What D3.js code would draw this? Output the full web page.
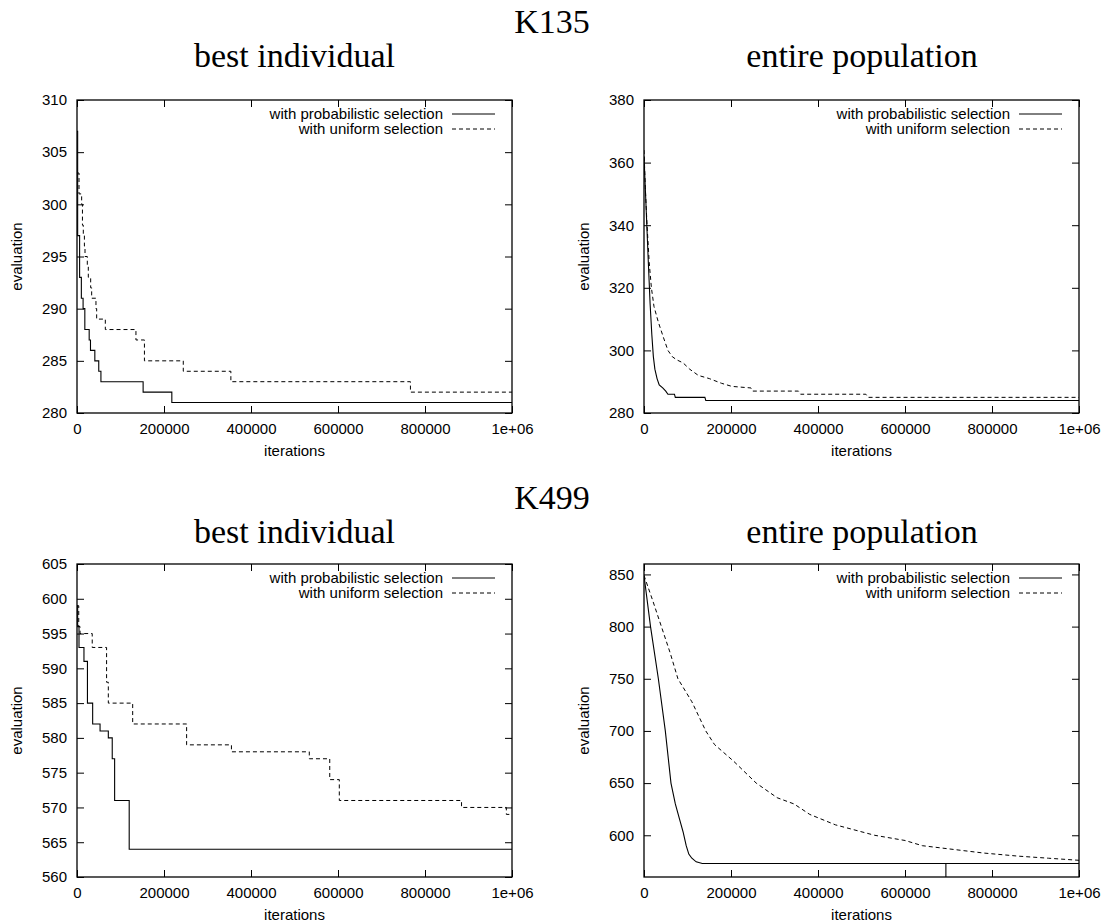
<!DOCTYPE html>
<html>
<head>
<meta charset="utf-8">
<script src="https://cdn.jsdelivr.net/npm/d3@7"></script>
<style>
body { margin: 0; background: #fff; }
svg text { fill: #000; }
.sans { font-family: "Liberation Sans", Arial, Helvetica, sans-serif; font-size: 15px; }
.serif { font-family: "Liberation Serif", "Times New Roman", serif; font-size: 34px; }
</style>
</head>
<body>
<div id="chart"></div>
<script>
// shared x axis
var xTicks = [0, 200000, 400000, 600000, 800000, 1000000],
    xTickLabels = ["0", "200000", "400000", "600000", "800000", "1e+06"];

// K135 - best individual (step series: [iteration, evaluation])
var k135BestTicks = [280, 285, 290, 295, 300, 305, 310];
var k135BestProb = [[0,307],[1500,297],[6000,293],[10000,291],[14000,290],[18000,288],[28000,287],
    [31000,286],[41000,285],[50000,284],[55000,283],[152000,282],[218000,281],[1000000,281]];
var k135BestUnif = [[0,303],[4600,301],[10700,300],[12500,298],[14500,297],[17000,296],[18400,295],
    [23700,294],[26000,293],[31400,292],[33700,291],[43600,290],[45200,289],[65100,288],[135500,287],
    [155000,285],[244300,284],[353700,283],[766500,282],[1000000,282]];

// K135 - entire population
var k135PopTicks = [280, 300, 320, 340, 360, 380];
var k135PopProb = [[0,362],[5000,345],[10000,328],[14000,315],[18000,305],[21500,298],[25000,294],
    [30000,291],[35000,289],[43000,288],[50000,287],[55000,286],[70000,286],[72000,285],[140000,285],
    [142000,284],[1000000,284]];
var k135PopUnif = [[0,364],[3000,352],[7000,340],[12000,328],[17000,320],[23000,314],[33000,309],
    [45000,304],[55000,300],[65000,298],[75000,297],[90000,296],[105000,294],[125000,292],[150000,291],
    [178000,289.5],[202000,288.5],[246000,288],[250000,287],[355000,287],[360000,286],[510000,286],
    [515000,285],[1000000,285]];

// K499 - best individual
var k499BestTicks = [560, 565, 570, 575, 580, 585, 590, 595, 600, 605];
var k499BestProb = [[0,599],[1500,596],[4600,593],[16000,591],[24000,585],[36000,582],[53000,581],
    [72000,580],[81000,577],[86500,571],[120000,564],[1000000,564]];
var k499BestUnif = [[0,599],[4000,596],[7000,595],[35000,593],[68000,588],[72000,585],[128000,582],
    [252000,579],[355000,578],[534000,577],[581000,574],[603000,571],[884000,570],[987000,569],
    [1000000,569]];

// K499 - entire population
var k499PopTicks = [600, 650, 700, 750, 800, 850];
var k499PopProb = [[0,849],[15000,800],[33000,750],[49000,700],[62000,650],[72000,630],[82000,615],
    [90000,603],[97000,590],[103000,582],[110000,578],[120000,574.5],[134000,573],[694000,573],
    [694000,540],[694000,573],[1000000,573]];
var k499PopUnif = [[0,849],[20000,825],[40000,800],[60000,775],[78000,750],[110000,728],[142000,700],
    [162000,687],[206000,671],[258000,650],[306000,636],[345000,630],[381000,620],[440000,610],
    [530000,600],[600000,595],[640000,590],[700000,587],[780000,583],[860000,580],[930000,578],
    [1000000,576]];

var width = 1105, height = 923,
    pw = 435, ph = 313,
    tickLen = 7;

var svg = d3.select("#chart").append("svg")
    .attr("width", width)
    .attr("height", height);

// headings
var headings = [
    {text: "K135", x: 552, y: 33},
    {text: "best individual", x: 294.5, y: 67},
    {text: "entire population", x: 862, y: 67},
    {text: "K499", x: 552, y: 509},
    {text: "best individual", x: 294.5, y: 543},
    {text: "entire population", x: 862, y: 543}
];
svg.selectAll(".heading").data(headings).enter().append("text")
    .attr("class", "heading serif")
    .attr("x", function(d) { return d.x; })
    .attr("y", function(d) { return d.y; })
    .attr("text-anchor", "middle")
    .text(function(d) { return d.text; });

var panels = [
    {left: 77,  top: 100, domain: [280, 310], ticks: k135BestTicks, prob: k135BestProb, unif: k135BestUnif, step: true},
    {left: 644, top: 100, domain: [280, 380], ticks: k135PopTicks,  prob: k135PopProb,  unif: k135PopUnif,  step: false},
    {left: 77,  top: 564, domain: [560, 605], ticks: k499BestTicks, prob: k499BestProb, unif: k499BestUnif, step: true},
    {left: 644, top: 564, domain: [560, 860], ticks: k499PopTicks,  prob: k499PopProb,  unif: k499PopUnif,  step: false}
];

panels.forEach(drawPanel);

function drawPanel(p, i) {
    var g = svg.append("g").attr("transform", "translate(" + p.left + "," + p.top + ")");
    var x = d3.scaleLinear().domain([0, 1000000]).range([0, pw]),
        y = d3.scaleLinear().domain(p.domain).range([ph, 0]);

    g.append("clipPath").attr("id", "clip" + i)
        .append("rect").attr("width", pw).attr("height", ph);

    // axes, gnuplot style: ticks inside and mirrored
    var bottom = g.append("g").attr("class", "sans")
        .attr("transform", "translate(0," + ph + ")")
        .call(d3.axisBottom(x).tickValues(xTicks).tickSize(-tickLen).tickPadding(10)
            .tickFormat(function(d, k) { return xTickLabels[k]; }));
    var top = g.append("g")
        .call(d3.axisTop(x).tickValues(xTicks).tickSize(-tickLen).tickFormat(""));
    var leftAx = g.append("g").attr("class", "sans")
        .call(d3.axisLeft(y).tickValues(p.ticks).tickSize(-tickLen).tickPadding(10)
            .tickFormat(d3.format("d")));
    var rightAx = g.append("g").attr("transform", "translate(" + pw + ",0)")
        .call(d3.axisRight(y).tickValues(p.ticks).tickSize(-tickLen).tickFormat(""));
    [bottom, top, leftAx, rightAx].forEach(function(a) {
        a.select(".domain").remove();
        a.selectAll("line").attr("stroke", "#000").attr("stroke-width", 1);
        a.selectAll("text").attr("fill", "#000");
        a.attr("font-family", null).attr("font-size", null);
    });

    g.append("rect")
        .attr("width", pw).attr("height", ph)
        .attr("fill", "none").attr("stroke", "#000").attr("stroke-width", 1.3);

    // series
    var line = d3.line()
        .x(function(d) { return x(d[0]); })
        .y(function(d) { return y(d[1]); })
        .curve(p.step ? d3.curveStepAfter : d3.curveLinear);
    var plot = g.append("g").attr("clip-path", "url(#clip" + i + ")");
    plot.append("path").datum(p.unif)
        .attr("d", line).attr("fill", "none")
        .attr("stroke", "#000").attr("stroke-width", 1).attr("stroke-dasharray", "4,3");
    plot.append("path").datum(p.prob)
        .attr("d", line).attr("fill", "none")
        .attr("stroke", "#000").attr("stroke-width", 1.1);

    // legend
    var legend = [
        {label: "with probabilistic selection", dash: null, y: 14},
        {label: "with uniform selection", dash: "4,3", y: 29}
    ];
    var lg = g.selectAll(".legend").data(legend).enter().append("g").attr("class", "legend");
    lg.append("text").attr("class", "sans")
        .attr("x", pw - 69).attr("y", function(d) { return d.y; })
        .attr("dy", "0.35em").attr("text-anchor", "end")
        .text(function(d) { return d.label; });
    lg.append("line")
        .attr("x1", pw - 60).attr("x2", pw - 17)
        .attr("y1", function(d) { return d.y; }).attr("y2", function(d) { return d.y; })
        .attr("stroke", "#000").attr("stroke-width", 1)
        .attr("stroke-dasharray", function(d) { return d.dash; });

    // axis titles
    g.append("text").attr("class", "sans")
        .attr("x", pw / 2).attr("y", ph + 43)
        .attr("text-anchor", "middle")
        .text("iterations");
    g.append("text").attr("class", "sans")
        .attr("transform", "translate(-55," + (ph / 2) + ") rotate(-90)")
        .attr("text-anchor", "middle")
        .text("evaluation");
}
</script>
</body>
</html>
